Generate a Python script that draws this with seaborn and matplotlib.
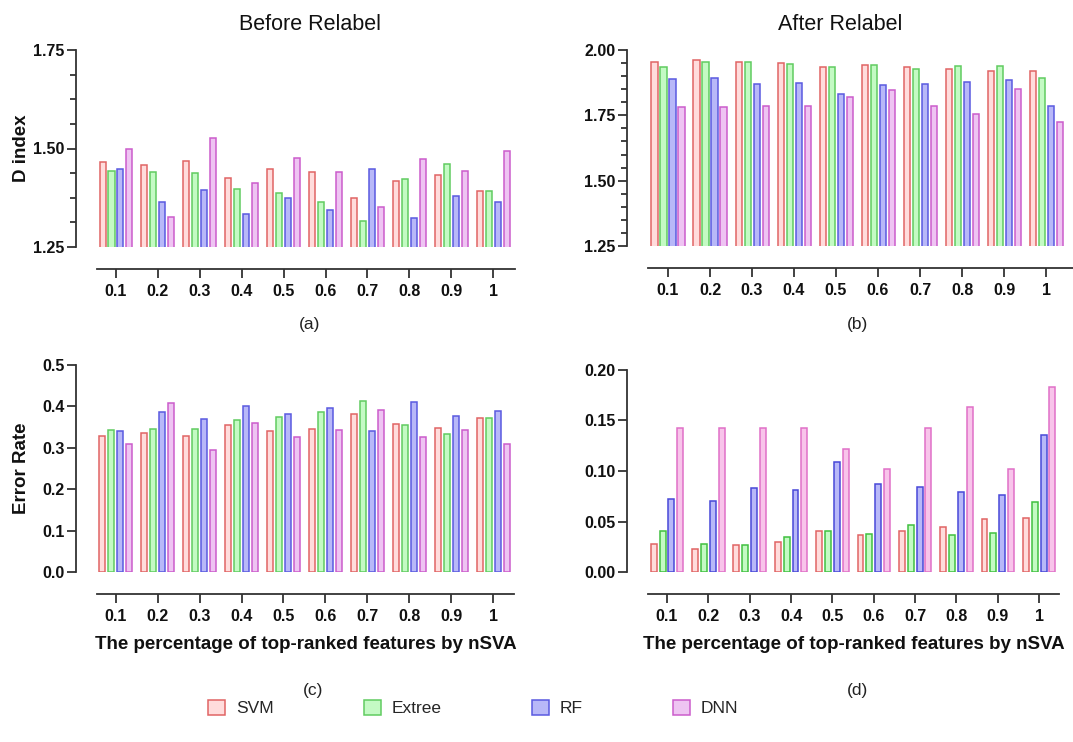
import numpy as np
import pandas as pd
import matplotlib
matplotlib.use("Agg")
import matplotlib.pyplot as plt
from matplotlib.ticker import MultipleLocator, FormatStrFormatter
from matplotlib.patches import Patch
import seaborn as sns

# ---- data -------------------------------------------------------------
pct_labels = ["0.1", "0.2", "0.3", "0.4", "0.5", "0.6", "0.7", "0.8", "0.9", "1"]
models = ["SVM", "Extree", "RF", "DNN"]

# D index, before relabel
d_before_svm = [1.467, 1.457, 1.468, 1.424, 1.447, 1.440, 1.374, 1.417, 1.432, 1.391]
d_before_ext = [1.442, 1.440, 1.439, 1.398, 1.388, 1.363, 1.315, 1.422, 1.460, 1.391]
d_before_rf = [1.447, 1.363, 1.394, 1.335, 1.374, 1.345, 1.447, 1.323, 1.379, 1.363]
d_before_dnn = [1.500, 1.325, 1.527, 1.413, 1.475, 1.440, 1.351, 1.473, 1.442, 1.493]

# D index, after relabel
d_after_svm = [1.954, 1.963, 1.955, 1.952, 1.935, 1.941, 1.935, 1.929, 1.919, 1.919]
d_after_ext = [1.935, 1.954, 1.955, 1.945, 1.935, 1.941, 1.926, 1.940, 1.938, 1.894]
d_after_rf = [1.889, 1.892, 1.871, 1.873, 1.832, 1.865, 1.871, 1.876, 1.884, 1.786]
d_after_dnn = [1.782, 1.781, 1.785, 1.785, 1.819, 1.846, 1.785, 1.756, 1.852, 1.725]

# Error rate, before relabel
e_before_svm = [0.329, 0.336, 0.329, 0.354, 0.341, 0.346, 0.382, 0.358, 0.349, 0.373]
e_before_ext = [0.344, 0.346, 0.346, 0.368, 0.374, 0.387, 0.413, 0.354, 0.333, 0.373]
e_before_rf = [0.341, 0.387, 0.370, 0.402, 0.382, 0.397, 0.341, 0.410, 0.378, 0.389]
e_before_dnn = [0.310, 0.409, 0.295, 0.360, 0.327, 0.344, 0.392, 0.327, 0.344, 0.310]

# Error rate, after relabel
e_after_svm = [0.028, 0.023, 0.027, 0.030, 0.041, 0.037, 0.041, 0.045, 0.052, 0.053]
e_after_ext = [0.041, 0.028, 0.027, 0.035, 0.041, 0.038, 0.047, 0.037, 0.039, 0.069]
e_after_rf = [0.072, 0.070, 0.083, 0.081, 0.109, 0.087, 0.084, 0.079, 0.076, 0.136]
e_after_dnn = [0.143, 0.143, 0.143, 0.143, 0.122, 0.102, 0.143, 0.163, 0.102, 0.183]

fills = ["#ffdcdc", "#c4fac4", "#b8b8f8", "#eec4f2"]
edges = ["#e06464", "#60cc60", "#5a5ae0", "#cc5ccc"]
fills_d = ["#ffdcdc", "#c4fac4", "#b8b8f8", "#f8c4ea"]
edges_d = ["#e06464", "#40c040", "#4848d8", "#e070c8"]


def make_frame(series):
    rows = []
    for name, vals in zip(models, series):
        for lab, v in zip(pct_labels, vals):
            rows.append({"pct": lab, "model": name, "value": v})
    return pd.DataFrame(rows)


sns.set_theme(style="white")
plt.rcParams["font.family"] = ["Liberation Sans", "DejaVu Sans"]

W, H = 1073, 742
fig = plt.figure(figsize=(W / 100, H / 100), dpi=100)


def px_axes(left, right, top, bottom):
    return fig.add_axes([left / W, 1 - bottom / H, (right - left) / W, (bottom - top) / H])


def draw(ax, series, ylim, major, minor, fmt, xlim, fc, ec, ylabel=None, xlabel=None):
    df = make_frame(series)
    sns.barplot(data=df, x="pct", y="value", hue="model", order=pct_labels,
                hue_order=models, palette=fc, saturation=1, width=0.857, gap=0.33,
                linewidth=1.1, legend=False, ax=ax, errorbar=None)
    for cont, f, e in zip(ax.containers, fc, ec):
        for bar in cont:
            bar.set_facecolor(f)
            bar.set_edgecolor(e)
            bar.set_alpha(None)
    ax.set_ylim(*ylim)
    ax.set_xlim(*xlim)
    ax.yaxis.set_major_locator(MultipleLocator(major))
    if minor:
        ax.yaxis.set_minor_locator(MultipleLocator(minor))
    ax.yaxis.set_major_formatter(FormatStrFormatter(fmt))
    for s in ["top", "right"]:
        ax.spines[s].set_visible(False)
    ax.spines["left"].set_position(("outward", 15))
    ax.spines["bottom"].set_position(("outward", 16))
    ax.spines["left"].set_bounds(*ylim)
    for s in ["left", "bottom"]:
        ax.spines[s].set_color("#333333")
        ax.spines[s].set_linewidth(1.3)
    ax.tick_params(axis="both", which="major", direction="out", length=6.5,
                   width=1.3, color="#333333", labelsize=11.5, pad=2)
    ax.tick_params(axis="y", which="minor", direction="out", length=4,
                   width=1.3, color="#333333")
    ax.tick_params(axis="x", pad=4)
    ax.tick_params(axis="y", left=True, which="both")
    ax.tick_params(axis="x", bottom=True)
    for t in ax.get_xticklabels() + ax.get_yticklabels():
        t.set_fontweight("bold")
        t.set_color("#111111")
    ax.set_xlabel(xlabel if xlabel else "", fontsize=13.5, fontweight="bold",
                  labelpad=9, color="#111111")
    ax.set_ylabel(ylabel if ylabel else "", fontsize=13.5, fontweight="bold",
                  color="#111111")
    ax.grid(False)
    ax.set_facecolor("none")


ax_a = px_axes(97, 515, 50, 247)
ax_b = px_axes(648, 1073, 50, 246)
ax_c = px_axes(97, 514, 365, 572)
ax_d = px_axes(648, 1059, 370, 572)

draw(ax_a, [d_before_svm, d_before_ext, d_before_rf, d_before_dnn],
     (1.25, 1.75), 0.25, 0.0625, "%.2f", (-0.453, 9.52), fills, edges,
     ylabel="D index")
draw(ax_b, [d_after_svm, d_after_ext, d_after_rf, d_after_dnn],
     (1.25, 2.00), 0.25, 0.05, "%.2f", (-0.476, 9.64), fills, edges)
draw(ax_c, [e_before_svm, e_before_ext, e_before_rf, e_before_dnn],
     (0.0, 0.5), 0.1, None, "%.1f", (-0.45, 9.5), fills, edges,
     ylabel="Error Rate", xlabel="The percentage of top-ranked features by nSVA")
draw(ax_d, [e_after_svm, e_after_ext, e_after_rf, e_after_dnn],
     (0.0, 0.20), 0.05, None, "%.2f", (-0.46, 9.48), fills_d, edges_d,
     xlabel="The percentage of top-ranked features by nSVA")

ax_a.yaxis.set_label_coords(-0.16, 0.5, transform=ax_a.transAxes)
ax_c.yaxis.set_label_coords(-0.16, 0.5, transform=ax_c.transAxes)

fig.text(310 / W, 1 - 25 / H, "Before Relabel", ha="center", va="center",
         fontsize=15.5, color="#111111")
fig.text(840 / W, 1 - 25 / H, "After Relabel", ha="center", va="center",
         fontsize=15.5, color="#111111")

for lab, (x, y) in zip(["(a)", "(b)", "(c)", "(d)"],
                       [(310, 325), (857, 325), (313, 690), (857, 690)]):
    fig.text(x / W, 1 - y / H, lab, ha="center", va="center", fontsize=12.5,
             color="#222222")

handles = [Patch(facecolor=f, edgecolor=e, linewidth=1.1) for f, e in zip(fills, edges)]
fig.legend(handles, models, loc="center", bbox_to_anchor=(473 / W, 1 - 708 / H),
           ncol=4, frameon=False, fontsize=12.5, handlelength=1.0, handleheight=1.0,
           handletextpad=0.6, columnspacing=5.2)

fig.savefig("out.png", dpi=100)
